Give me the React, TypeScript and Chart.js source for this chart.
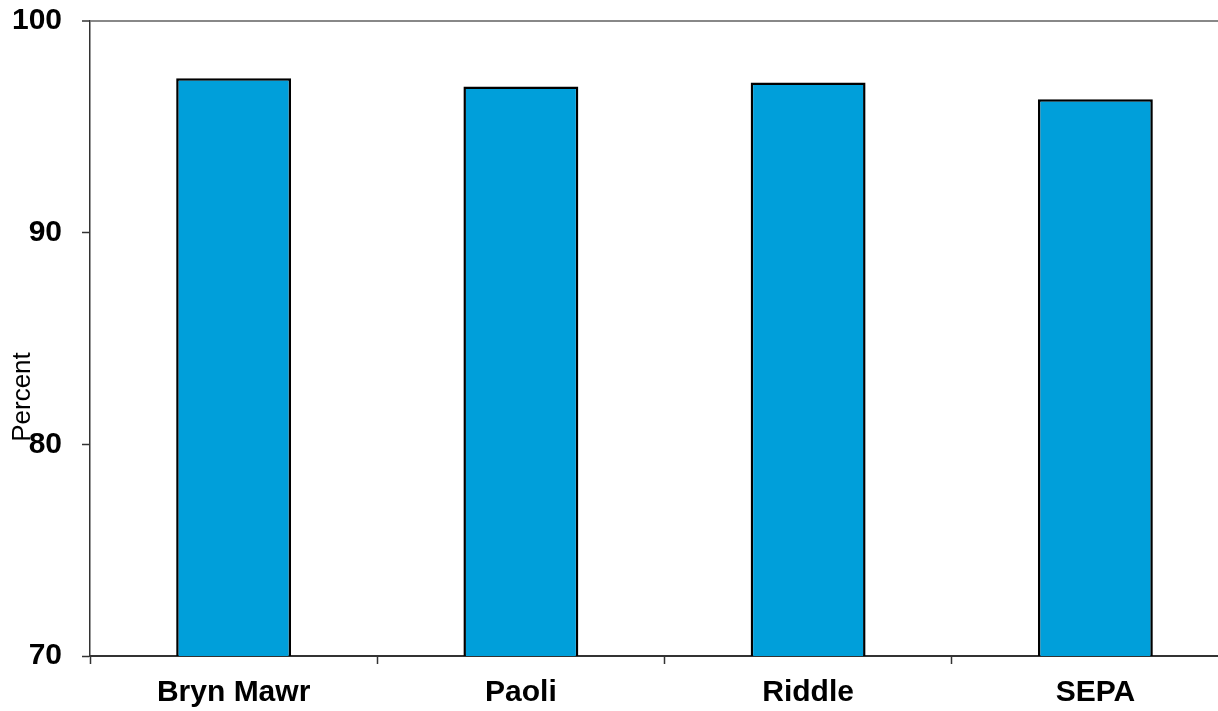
import React, { useEffect, useRef } from "react";
import { Chart, registerables } from "chart.js";

Chart.register(...registerables);

const categories = ["Bryn Mawr", "Paoli", "Riddle", "SEPA"];
const percentValues = [97.3, 96.9, 97.1, 96.3];
const yTickValues = [70, 80, 90, 100];
const yAxisTitle = "Percent";

const FONT = 'Arial, "Liberation Sans", sans-serif';

export default function App() {
  const ref = useRef<HTMLCanvasElement | null>(null);

  useEffect(() => {
    if (!ref.current) return;
    const titlePlugin = {
      id: "yTitle",
      afterDraw(chart: any) {
        const ctx = chart.ctx;
        ctx.save();
        ctx.translate(30, 397);
        ctx.rotate(-Math.PI / 2);
        ctx.font = `26px ${FONT}`;
        ctx.fillStyle = "#000";
        ctx.textAlign = "center";
        ctx.textBaseline = "alphabetic";
        ctx.fillText(yAxisTitle, 0, 0);
        ctx.restore();
      },
    };
    const chart = new Chart(ref.current, {
      type: "bar",
      data: {
        labels: categories,
        datasets: [
          {
            data: percentValues,
            backgroundColor: "#009FDA",
            borderColor: "#000000",
            borderWidth: 2.5,
            borderSkipped: "bottom",
            barPercentage: 0.4,
            categoryPercentage: 1,
          },
        ],
      },
      options: {
        responsive: false,
        animation: false,
        devicePixelRatio: 1,
        layout: { padding: { top: 21, right: 0, bottom: 0, left: 0 } },
        plugins: {
          legend: { display: false },
          tooltip: { enabled: false },
          title: { display: false },
        },
        scales: {
          x: {
            offset: true,
            grid: {
              display: true,
              drawOnChartArea: false,
              tickLength: 8,
              tickColor: "#333333",
              tickWidth: 1.5,
              offset: true,
            },
            border: { display: true, color: "#333333", width: 2 },
            ticks: {
              color: "#000",
              font: { family: FONT, size: 30, weight: "bold" },
              padding: 11,
              maxRotation: 0,
            },
            afterFit: (scale: any) => {
              scale.height = 55;
              scale.paddingLeft = 0;
              scale.paddingRight = 0;
            },
          },
          y: {
            min: 70,
            max: 100,
            afterBuildTicks: (scale: any) => {
              scale.ticks = yTickValues.map((v) => ({ value: v }));
            },
            grid: {
              display: true,
              drawOnChartArea: true,
              color: (c: any) => (c.tick && c.tick.value === 100 ? "#888888" : "rgba(0,0,0,0)"),
              lineWidth: (c: any) => (c.tick && c.tick.value === 100 ? 2 : 1),
              tickLength: 8,
              tickColor: "#333333",
              tickWidth: 1.5,
            },
            border: { display: true, color: "#333333", width: 1.5 },
            ticks: {
              color: "#000",
              font: { family: FONT, size: 30, weight: "bold" },
              padding: 20,
            },
            afterFit: (scale: any) => {
              scale.width = 90;
              scale.paddingTop = 0;
              scale.paddingBottom = 0;
            },
          },
        },
      },
      plugins: [titlePlugin],
    } as any);
    return () => chart.destroy();
  }, []);

  return (
    <div
      style={{
        position: "fixed",
        left: 0,
        top: 0,
        width: 1218,
        height: 711,
        overflow: "hidden",
        background: "#fff",
      }}
    >
      <canvas
        ref={ref}
        width={1239}
        height={711}
        style={{ display: "block", width: "1239px", height: "711px" }}
      />
    </div>
  );
}
